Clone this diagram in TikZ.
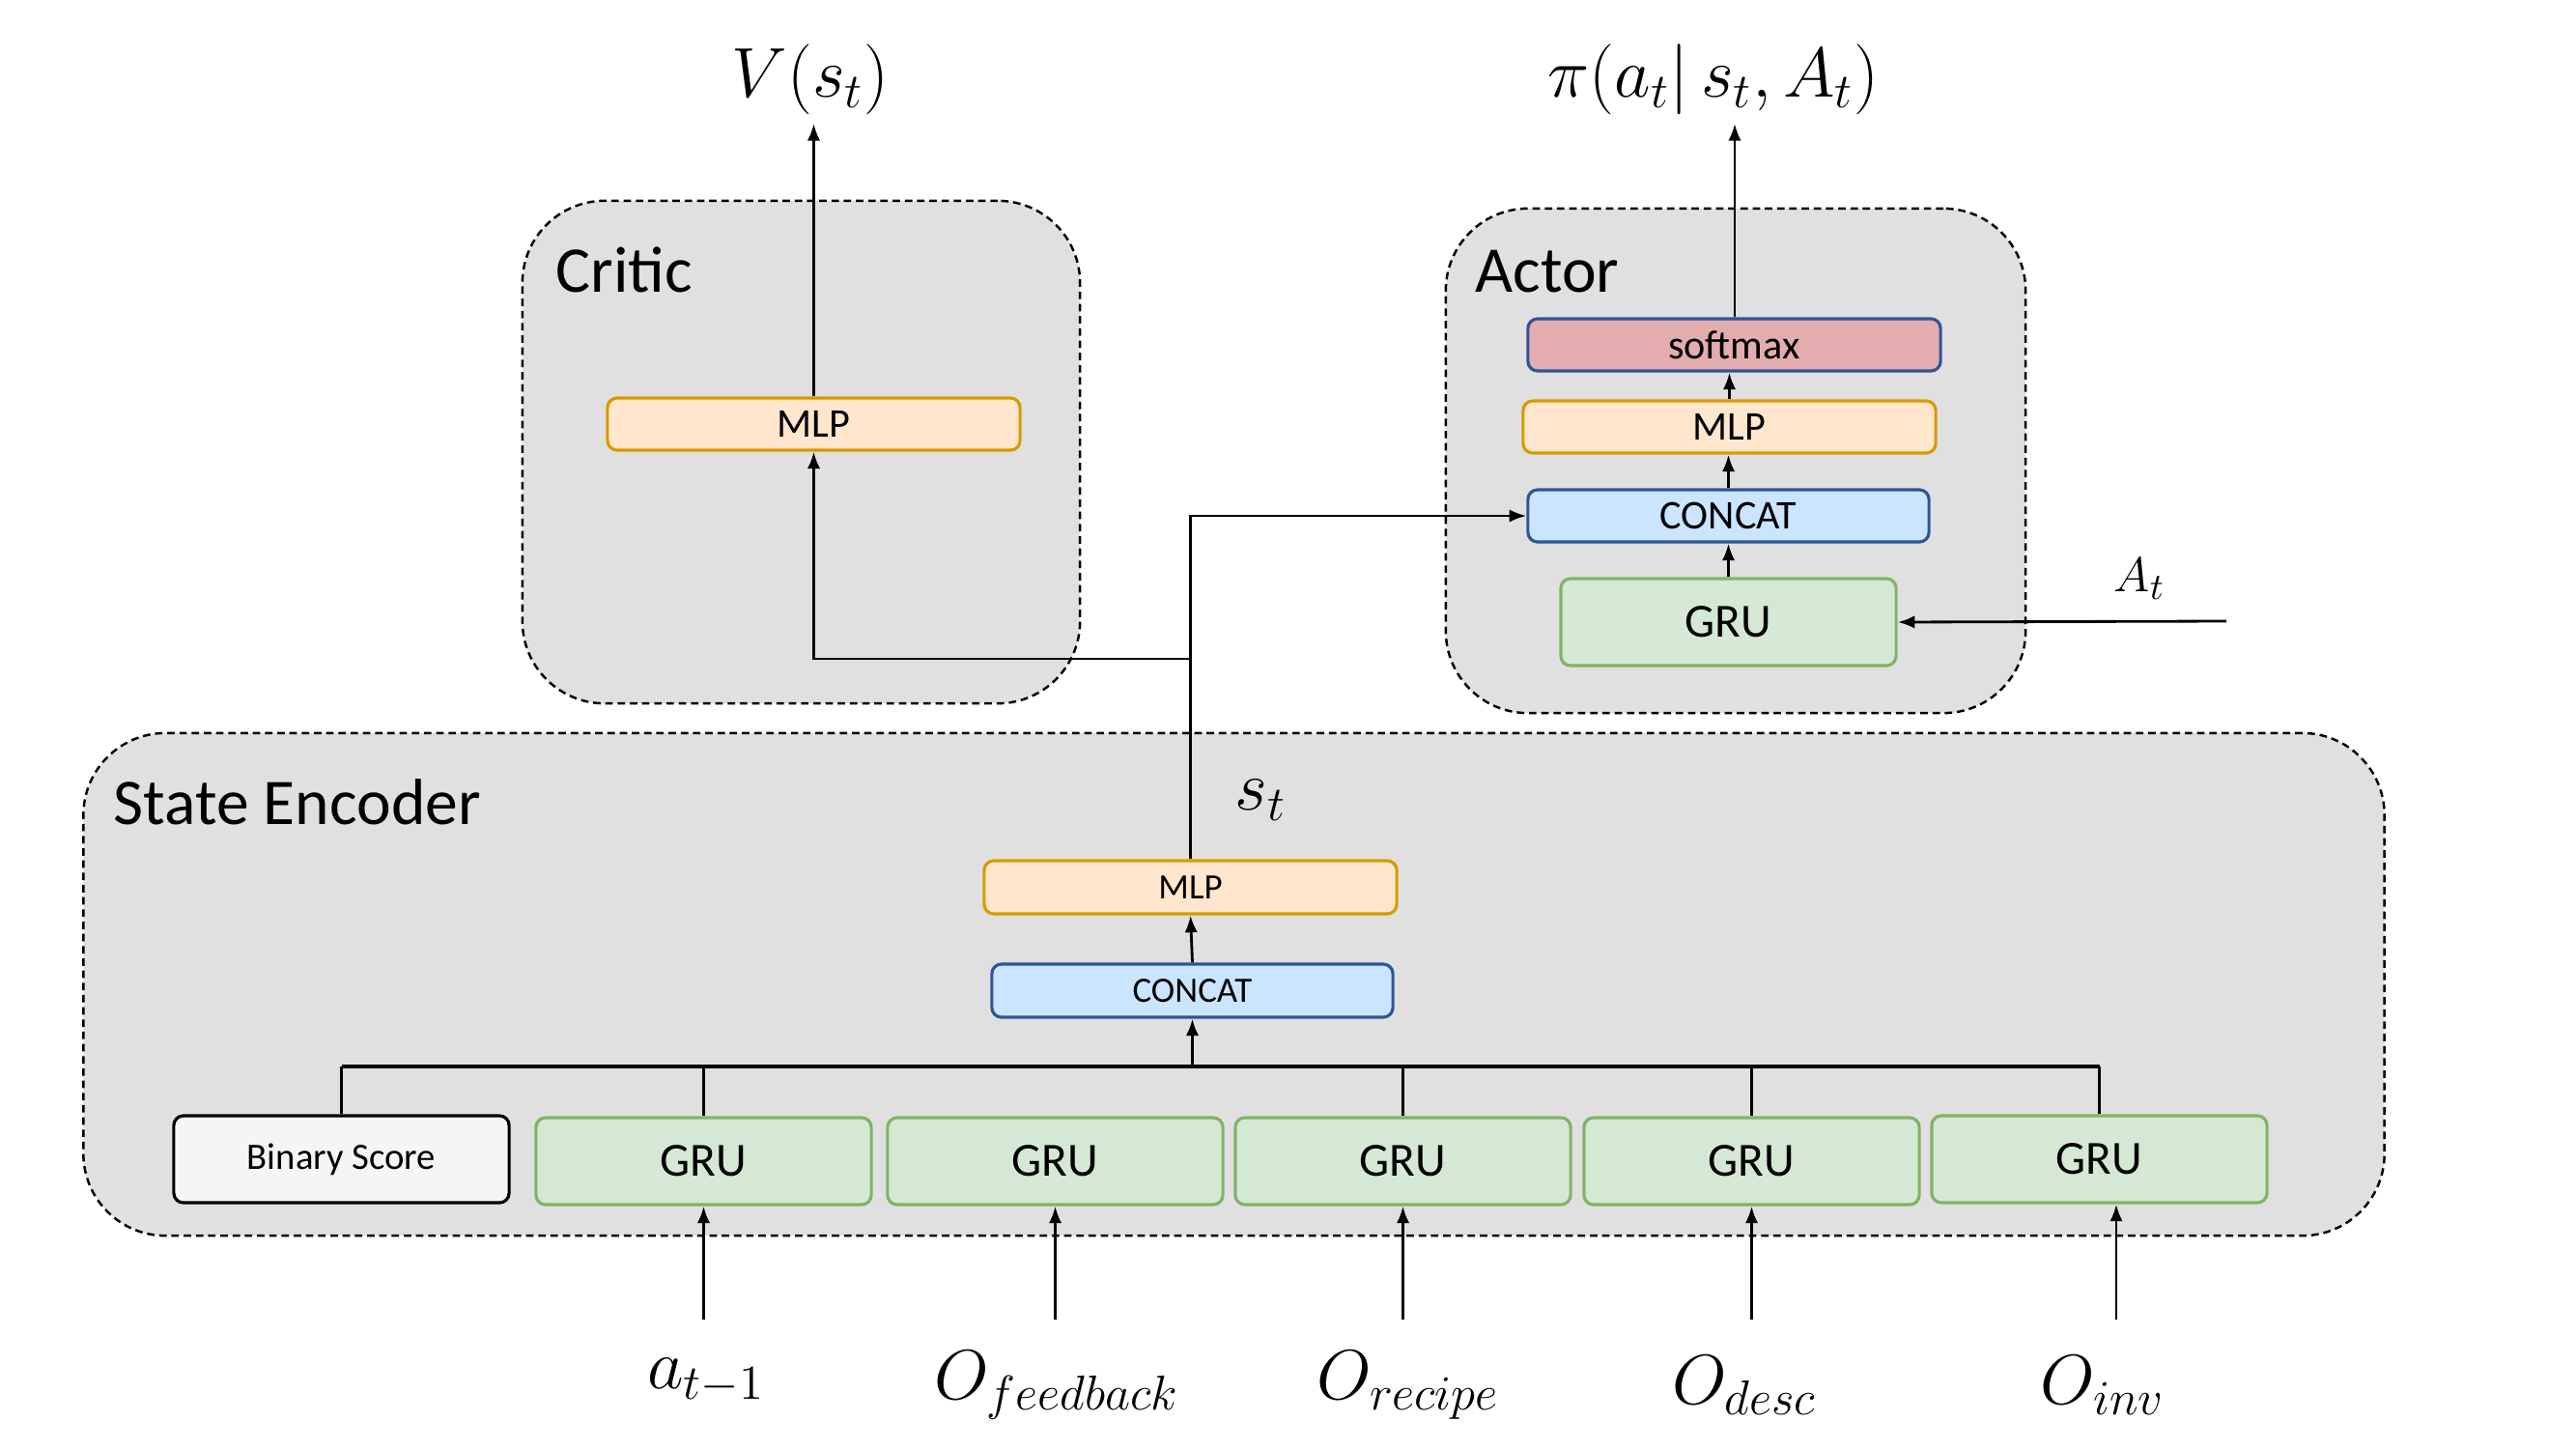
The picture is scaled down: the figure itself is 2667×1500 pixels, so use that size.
\documentclass[tikz,border=0pt]{standalone}
\usepackage{fontspec}
\setmainfont{Carlito}
\usetikzlibrary{arrows.meta}
\definecolor{groupgray}{HTML}{E0E0E0}
\definecolor{mlpfill}{HTML}{FFE6CC}
\definecolor{mlpdraw}{HTML}{D79B00}
\definecolor{catfill}{HTML}{CCE5FF}
\definecolor{catdraw}{HTML}{2F5597}
\definecolor{smfill}{HTML}{E3ADAF}
\definecolor{grufill}{HTML}{D5E8D4}
\definecolor{grudraw}{HTML}{82B366}
\definecolor{binfill}{HTML}{F5F5F5}
\begin{document}
\begin{tikzpicture}[x=0.01cm,y=-0.01cm,
  group/.style={draw, dashed, dash pattern=on 2.2pt off 1.4pt, fill=groupgray, rounded corners=0.85cm, line width=0.7pt, inner sep=0},
  layer/.style={rounded corners=0.1cm, line width=0.9pt, inner sep=0, align=center},
  mlp/.style={layer, fill=mlpfill, draw=mlpdraw},
  cat/.style={layer, fill=catfill, draw=catdraw},
  smax/.style={layer, fill=smfill, draw=catdraw},
  gru/.style={layer, fill=grufill, draw=grudraw, minimum width=3.47cm, minimum height=0.9cm, font=\fontsize{14}{16}\selectfont},
  title/.style={anchor=west, font=\fontsize{19.2}{23}\selectfont, inner sep=0},
  mathlbl/.style={font=\fontsize{21}{25}\selectfont, inner sep=0},
  conn/.style={line width=0.8pt},
  arr/.style={conn, -{Latex[length=5pt,width=3.8pt]}},
  bus/.style={line width=1.2pt}
]
\useasboundingbox (0,0) rectangle (2667,1500);

% groups
\node[group, minimum width=5.77cm, minimum height=5.2cm] (critic) at (829.5,468) {};
\node[group, minimum width=6.0cm, minimum height=5.22cm] (actor) at (1797,477) {};
\node[group, minimum width=23.81cm, minimum height=5.2cm] (enc) at (1277.5,1019) {};

\node[title] (critict) at (575,279) {Critic};
\node[title] (actort) at (1527,281) {Actor};
\node[title] (enct) at (117,830) {State Encoder};

% critic
\node[mlp, minimum width=4.27cm, minimum height=0.54cm, font=\fontsize{12}{14}\selectfont] (cmlp) at (842.5,439) {MLP};
\node[mathlbl, font=\fontsize{20}{24}\selectfont] (vlab) at (839,82) {$V(s_t)$};
\coordinate (vend) at (842.5,128);

% actor
\node[smax, minimum width=4.27cm, minimum height=0.54cm, font=\fontsize{12}{14}\selectfont] (asm) at (1795.5,357) {softmax};
\node[mlp, minimum width=4.27cm, minimum height=0.54cm, font=\fontsize{12}{14}\selectfont] (amlp) at (1790.5,442) {MLP};
\node[cat, minimum width=4.15cm, minimum height=0.54cm, font=\fontsize{12}{14}\selectfont] (acat) at (1789.5,534) {CONCAT};
\node[gru] (agru) at (1789.5,644) {GRU};
\node[mathlbl, font=\fontsize{20}{24}\selectfont] (pilab) at (1774,82) {$\pi(a_t|\, s_t, A_t)$};
\coordinate (piend) at (1796,128);
\node[mathlbl, font=\fontsize{15}{18}\selectfont] (alab) at (2215,599) {$A_t$};
\coordinate (ain) at (2305,643);

% encoder
\node[mlp, minimum width=4.27cm, minimum height=0.55cm, font=\fontsize{10.5}{12}\selectfont] (emlp) at (1232.5,918.5) {MLP};
\node[cat, minimum width=4.15cm, minimum height=0.55cm, font=\fontsize{10.5}{12}\selectfont] (ecat) at (1234.5,1025.5) {CONCAT};
\node[mathlbl] (slab) at (1305,828) {$s_t$};
\node[layer, draw=black, fill=binfill, minimum width=3.47cm, minimum height=0.9cm, font=\fontsize{11}{13}\selectfont] (bin) at (353.5,1200) {Binary Score};
\node[gru] (g1) at (728.5,1202) {GRU};
\node[gru] (g2) at (1092.5,1202) {GRU};
\node[gru] (g3) at (1452.5,1202) {GRU};
\node[gru] (g4) at (1813.5,1202) {GRU};
\node[gru] (g5) at (2173.5,1200) {GRU};

% inputs
\node[mathlbl] (l1) at (731,1429) {$a_{t-1}$};
\node[mathlbl] (l2) at (1094,1434) {$O_{feedback}$};
\node[mathlbl] (l3) at (1458,1434) {$O_{recipe}$};
\node[mathlbl] (l4) at (1806,1434) {$O_{desc}$};
\node[mathlbl] (l5) at (2177,1434) {$O_{inv}$};
\coordinate (i1) at (728.5,1366);
\coordinate (i2) at (1092.5,1366);
\coordinate (i3) at (1452.5,1366);
\coordinate (i4) at (1813.5,1366);
\coordinate (i5) at (2191,1366);
\draw[arr] (i1) -- (g1.south);
\draw[arr] (i2) -- (g2.south);
\draw[arr] (i3) -- (g3.south);
\draw[arr] (i4) -- (g4.south);
\draw[arr] (i5) -- (i5 |- g5.south);

% bus
\coordinate (busL) at (353.5,1104);
\coordinate (busR) at (2173.5,1104);
\draw[bus] (busL) -- (busR);
\draw[conn] (bin.north) -- (bin.north |- busL);
\draw[conn] (g1.north) -- (g1.north |- busL);
\draw[conn] (g3.north) -- (g3.north |- busL);
\draw[conn] (g4.north) -- (g4.north |- busL);
\draw[conn] (g5.north) -- (g5.north |- busL);
\draw[arr] (ecat.south |- busL) -- (ecat.south);
\draw[arr] (ecat.north) -- (emlp.south);

% state to actor / critic
\coordinate (jn) at (1232.5,682);
\draw[arr] (emlp.north) -- (emlp.north |- acat.west) -- (acat.west);
\draw[arr] (jn) -- (cmlp.south |- jn) -- (cmlp.south);

% actor chain
\draw[arr] (agru.north) -- (agru.north |- acat.south);
\draw[arr] (acat.north) -- (acat.north |- amlp.south);
\draw[arr] (amlp.north) -- (amlp.north |- asm.south);
\draw[arr] (asm.north -| piend) -- (piend);
\draw[arr] (ain) -- (agru.east);

% critic output
\draw[arr] (cmlp.north) -- (vend);
\end{tikzpicture}
\end{document}
